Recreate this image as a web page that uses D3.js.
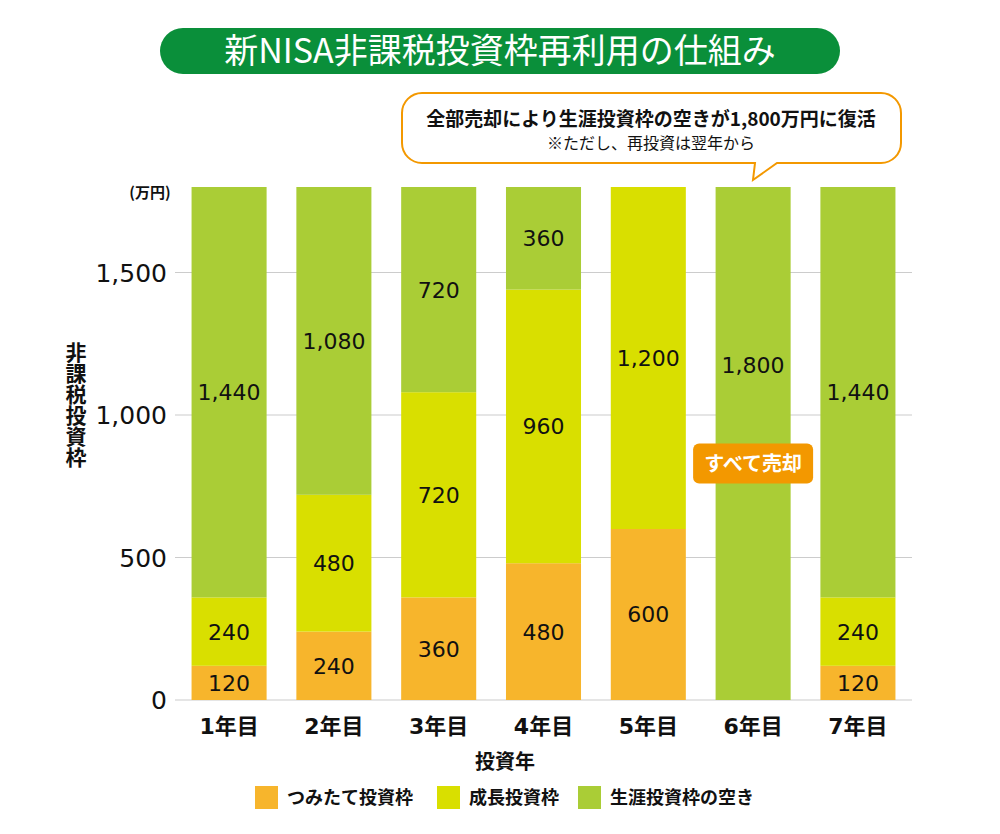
<!DOCTYPE html>
<html lang="ja">
<head>
<meta charset="utf-8">
<script src="https://cdn.jsdelivr.net/npm/d3@7"></script>
<style>
  html, body { margin: 0; padding: 0; background: #fff; }
  svg { display: block; font-family: "Noto Sans CJK JP", "Noto Sans", sans-serif; }
  .num { font-family: "DejaVu Sans", "Noto Sans CJK JP", sans-serif; }
</style>
</head>
<body>
<svg id="chart" width="1000" height="834"></svg>
<script>
// ---- data ----
const years = ["1年目", "2年目", "3年目", "4年目", "5年目", "6年目", "7年目"];
const tsumitate = [120, 240, 360, 480, 600, 0, 120];
const seicho = [240, 480, 720, 960, 1200, 0, 240];
const aki = [1440, 1080, 720, 360, 0, 1800, 1440];
const seriesNames = ["つみたて投資枠", "成長投資枠", "生涯投資枠の空き"];
const yTicks = [0, 500, 1000, 1500];
const titleText = "新NISA非課税投資枠再利用の仕組み";
const calloutMain = "全部売却により生涯投資枠の空きが1,800万円に復活";
const calloutSub = "※ただし、再投資は翌年から";
const badgeText = "すべて売却";
const unitText = "(万円)";
const yAxisTitle = "非課税投資枠";
const xAxisTitle = "投資年";

const colors = ["#F7B52C", "#D9DF00", "#AACD36"];

const svg = d3.select("#chart");

const x = d3.scaleBand().domain(years).range([175, 912]).paddingInner(0.284).paddingOuter(0.158);
const y = d3.scaleLinear().domain([0, 1800]).range([700, 187]);

// gridlines
svg.append("g").selectAll("line").data(yTicks).join("line")
  .attr("x1", 175).attr("x2", 912)
  .attr("y1", d => y(d)).attr("y2", d => y(d))
  .attr("stroke", "#cccccc").attr("stroke-width", 1.2);

// y tick labels
const fmt = d3.format(",");
svg.append("g").selectAll("text").data(yTicks).join("text")
  .attr("class", "num")
  .attr("x", 167).attr("y", d => y(d))
  .attr("dy", "0.36em")
  .attr("text-anchor", "end")
  .attr("font-size", 25).attr("fill", "#111")
  .text(d => fmt(d));

// stacked data
const rows = years.map((yr, i) => ({ year: yr, a: tsumitate[i], b: seicho[i], c: aki[i] }));
const stack = d3.stack().keys(["a", "b", "c"])(rows);

const bars = svg.append("g");
stack.forEach((layer, li) => {
  bars.append("g").attr("fill", colors[li]).selectAll("rect")
    .data(layer.filter(d => d[1] - d[0] > 0)).join("rect")
    .attr("x", d => x(d.data.year))
    .attr("width", x.bandwidth())
    .attr("y", d => y(d[1]))
    .attr("height", d => y(d[0]) - y(d[1]));
});

// value labels
const labels = svg.append("g");
stack.forEach((layer, li) => {
  labels.selectAll(null)
    .data(layer.filter(d => d[1] - d[0] > 0)).join("text")
    .attr("class", "num")
    .attr("x", d => x(d.data.year) + x.bandwidth() / 2)
    .attr("y", d => {
      if (d.data.year === "6年目") return y(1175);
      return y((d[0] + d[1]) / 2);
    })
    .attr("dy", "0.36em")
    .attr("text-anchor", "middle")
    .attr("font-size", 22).attr("fill", "#111")
    .text(d => fmt(d[1] - d[0]));
});

// badge on year 6
const bx = x("6年目") + x.bandwidth() / 2;
const by = y(830);
svg.append("rect")
  .attr("x", bx - 60).attr("y", by - 20).attr("width", 120).attr("height", 40)
  .attr("rx", 6).attr("fill", "#F39800");
svg.append("text")
  .attr("x", bx).attr("y", by).attr("dy", "0.36em")
  .attr("text-anchor", "middle").attr("font-size", 20).attr("font-weight", 700)
  .attr("fill", "#fff").text(badgeText);

// x axis labels
svg.append("g").selectAll("text").data(years).join("text")
  .attr("class", "num")
  .attr("x", d => x(d) + x.bandwidth() / 2)
  .attr("y", 726).attr("dy", "0.36em")
  .attr("text-anchor", "middle").attr("font-size", 22).attr("font-weight", 700)
  .attr("fill", "#111").text(d => d);

// x axis title
svg.append("text").attr("x", 505).attr("y", 762).attr("dy", "0.36em")
  .attr("text-anchor", "middle").attr("font-size", 20).attr("font-weight", 700)
  .attr("fill", "#111").text(xAxisTitle);

// unit label
svg.append("text").attr("x", 150).attr("y", 193).attr("dy", "0.36em")
  .attr("text-anchor", "middle").attr("font-size", 15).attr("font-weight", 700)
  .attr("fill", "#111").text(unitText);

// y axis title (vertical)
svg.append("text")
  .attr("x", 76).attr("y", 342)
  .attr("writing-mode", "vertical-rl")
  .style("text-orientation", "upright")
  .attr("font-size", 21).attr("font-weight", 700)
  .attr("fill", "#111").text(yAxisTitle);

// title pill
svg.append("rect").attr("x", 160).attr("y", 28).attr("width", 680).attr("height", 46)
  .attr("rx", 23).attr("fill", "#0A8F3A");
svg.append("text").attr("x", 500).attr("y", 51).attr("dy", "0.36em")
  .attr("text-anchor", "middle").attr("font-size", 34).attr("font-weight", 400)
  .attr("fill", "#fff").text(titleText);

// callout bubble
const cx0 = 402, cx1 = 901, cy0 = 93, cy1 = 163, r = 20;
const tailL = 755, tailR = 777, tipX = 753, tipY = 180;
const p = d3.path();
p.moveTo(cx0 + r, cy0);
p.lineTo(cx1 - r, cy0);
p.arcTo(cx1, cy0, cx1, cy0 + r, r);
p.lineTo(cx1, cy1 - r);
p.arcTo(cx1, cy1, cx1 - r, cy1, r);
p.lineTo(tailR, cy1);
p.lineTo(tipX, tipY);
p.lineTo(tailL, cy1);
p.lineTo(cx0 + r, cy1);
p.arcTo(cx0, cy1, cx0, cy1 - r, r);
p.lineTo(cx0, cy0 + r);
p.arcTo(cx0, cy0, cx0 + r, cy0, r);
p.closePath();
svg.append("path").attr("d", p.toString()).attr("fill", "#fff")
  .attr("stroke", "#F39800").attr("stroke-width", 2);
svg.append("text").attr("x", 651).attr("y", 119).attr("dy", "0.36em")
  .attr("text-anchor", "middle").attr("font-size", 19).attr("font-weight", 700)
  .attr("fill", "#111").text(calloutMain);
svg.append("text").attr("x", 651).attr("y", 143).attr("dy", "0.36em")
  .attr("text-anchor", "middle").attr("font-size", 16).attr("font-weight", 400)
  .attr("fill", "#111").text(calloutSub);

// legend
const legendX = [255, 437, 578];
const lg = svg.append("g").selectAll("g").data(seriesNames).join("g")
  .attr("transform", (d, i) => `translate(${legendX[i]},786)`);
lg.append("rect").attr("width", 23).attr("height", 23).attr("fill", (d, i) => colors[i]);
lg.append("text").attr("x", 32).attr("y", 12).attr("dy", "0.36em")
  .attr("font-size", 18).attr("font-weight", 700).attr("fill", "#111").text(d => d);
</script>
</body>
</html>
